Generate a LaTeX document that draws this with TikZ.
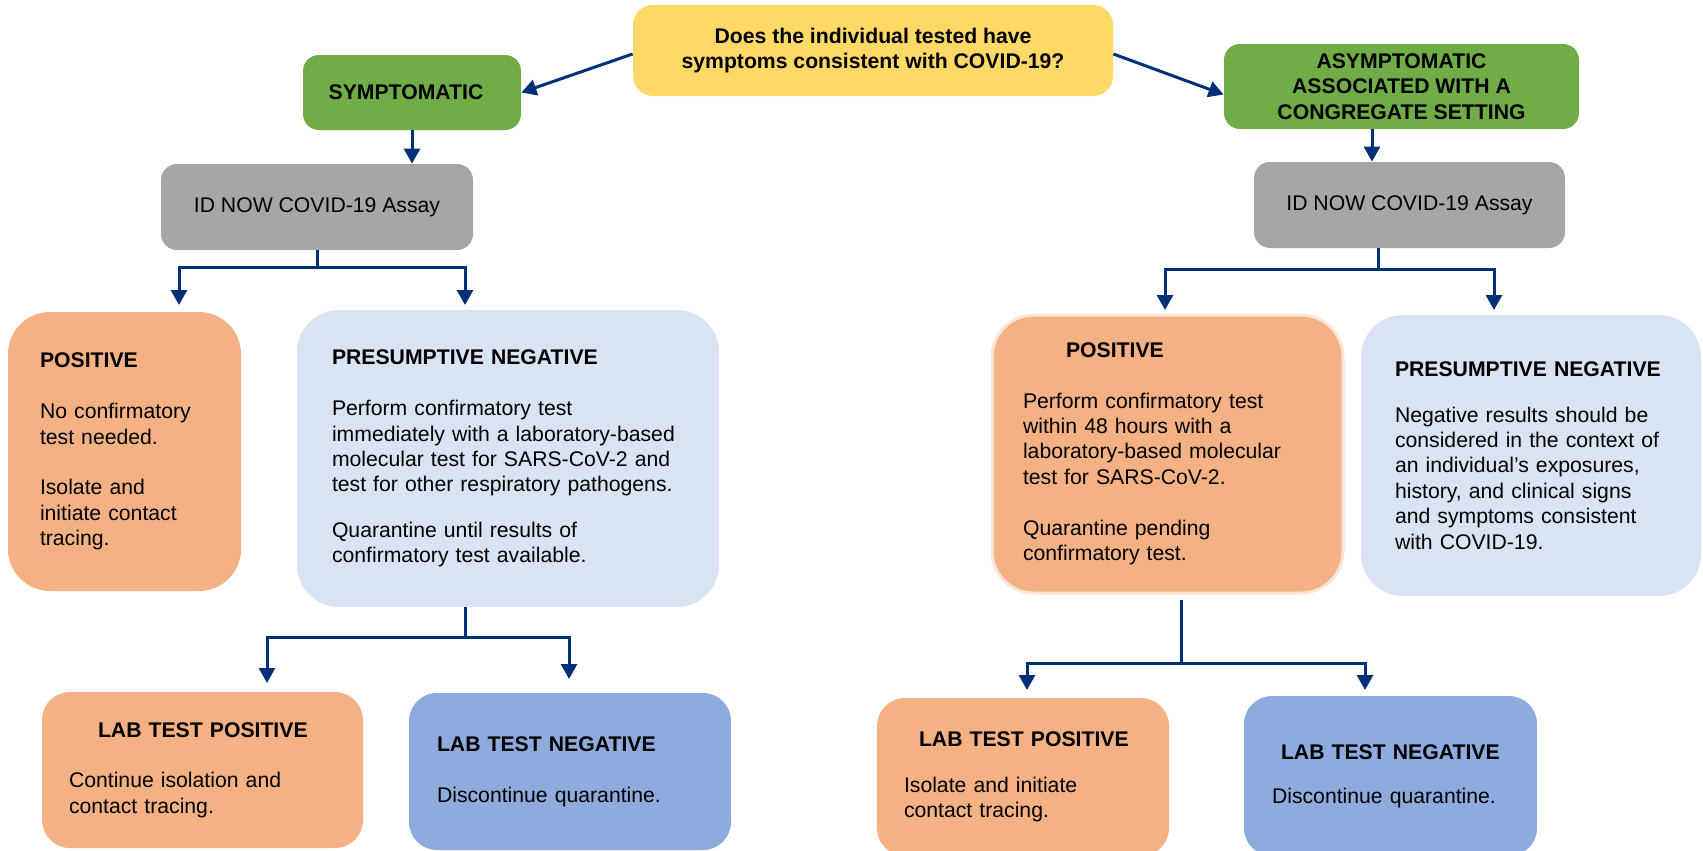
\documentclass[tikz,border=0pt]{standalone}
\usepackage{fontspec}
\setmainfont{Liberation Sans}
\usetikzlibrary{arrows.meta}
\definecolor{qyellow}{HTML}{FFD966}
\definecolor{sgreen}{HTML}{70AD47}
\definecolor{agray}{HTML}{A6A6A6}
\definecolor{porange}{HTML}{F4B183}
\definecolor{pborder}{HTML}{FBE5D6}
\definecolor{nblue}{HTML}{DAE3F3}
\definecolor{lblue}{HTML}{8FAADC}
\definecolor{arrblue}{HTML}{00307A}
\newcommand{\bodyfont}{\fontsize{10.6}{12.7}\selectfont}
\begin{document}
\begin{tikzpicture}[x=0.5pt, y=-0.5pt,
	box/.style={inner sep=0pt, font=\bodyfont},
	quesbox/.style={box, fill=qyellow, rounded corners=10pt, align=center, font=\bodyfont\bfseries},
	grnbox/.style={box, fill=sgreen, rounded corners=8pt, align=center, font=\bodyfont\bfseries},
	assaybox/.style={box, fill=agray, rounded corners=8pt},
	posbox/.style={box, fill=porange, rounded corners=21pt, align=left},
	pnegbox/.style={box, fill=nblue, rounded corners=21pt, align=left},
	labbox/.style={box, rounded corners=14pt, align=left},
	arr/.style={draw=arrblue, line width=1.5pt, -{Triangle[length=7.5pt,width=8pt]}}]
\useasboundingbox (0,0) rectangle (1703,851);

% question and the two groups
\node[quesbox, minimum width=240pt, minimum height=45.5pt] (ques) at (873,50.5)
	{Does the individual tested have\\symptoms consistent with COVID-19?};
\node[grnbox, minimum width=109pt, minimum height=37.5pt] (symp) at (412,92.5) {SYMPTOMATIC\hspace*{6pt}};
\node[grnbox, minimum width=177.5pt, minimum height=42.5pt] (asymp) at (1401.5,86.5)
	{ASYMPTOMATIC\\ASSOCIATED WITH A\\CONGREGATE SETTING};

% assays
\node[assaybox, minimum width=156pt, minimum height=43pt] (assayL) at (317,207) {ID NOW COVID-19 Assay};
\node[assaybox, minimum width=155.5pt, minimum height=43pt] (assayR) at (1409.5,205) {ID NOW COVID-19 Assay};

% results, left side
\node[posbox, minimum width=116.5pt, minimum height=139.5pt, text width=84.5pt, inner xsep=16pt] (posL) at (124.5,451.5)
	{\textbf{POSITIVE}\\[12.7pt]No confirmatory\\test needed.\\[12.7pt]Isolate and\\initiate contact\\tracing.};
\node[pnegbox, minimum width=211pt, minimum height=148.5pt, text width=176pt, inner xsep=17.5pt] (negL) at (508,458.5)
	{\textbf{PRESUMPTIVE NEGATIVE}\\[12.7pt]Perform confirmatory test\\immediately with a laboratory-based\\molecular test for SARS-CoV-2 and\\test for other respiratory pathogens.\\[10pt]Quarantine until results of\\confirmatory test available.};

% results, right side
\node[posbox, draw=pborder, line width=1.5pt, minimum width=175.5pt, minimum height=139pt, text width=144.5pt, inner xsep=15.5pt] (posR) at (1167.5,454)
	{\hspace*{21.5pt}\textbf{POSITIVE}\\[12.4pt]Perform confirmatory test\\within 48 hours with a\\laboratory-based molecular\\test for SARS-CoV-2.\\[12.7pt]Quarantine pending\\confirmatory test.};
\node[pnegbox, minimum width=170pt, minimum height=140.5pt, text width=136pt, inner xsep=17pt] (negR) at (1531,455.5)
	{\textbf{PRESUMPTIVE NEGATIVE}\\[10pt]Negative results should be\\considered in the context of\\an individual’s exposures,\\history, and clinical signs\\and symptoms consistent\\with COVID-19.};

% lab tests
\node[labbox, fill=porange, minimum width=160.5pt, minimum height=78pt, text width=133.5pt, inner xsep=13.5pt] (labposL) at (202.5,770)
	{\hspace*{14.5pt}\textbf{LAB TEST POSITIVE}\\[12.7pt]Continue isolation and\\contact tracing.};
\node[labbox, fill=lblue, minimum width=161pt, minimum height=78.5pt, text width=133pt, inner xsep=14pt] (labnegL) at (570,771.5)
	{\textbf{LAB TEST NEGATIVE}\\[12.7pt]Discontinue quarantine.};
\node[labbox, fill=porange, minimum width=146pt, minimum height=79pt, text width=119pt, inner xsep=13.5pt] (labposR) at (1023,777)
	{\hspace*{7.5pt}\textbf{LAB TEST POSITIVE}\\[10pt]Isolate and initiate\\contact tracing.};
\node[labbox, fill=lblue, minimum width=146.5pt, minimum height=80pt, text width=118.5pt, inner xsep=14pt] (labnegR) at (1390.5,776)
	{\hspace*{4.5pt}\textbf{LAB TEST NEGATIVE}\\[9.5pt]Discontinue quarantine.};

% fork points and arrow tips
\coordinate (asympOut) at ([xshift=-14.75pt]asymp.south);
\coordinate (forkA) at (317,267);
\coordinate (tipA1) at (179,305);
\coordinate (tipA2) at (465,305);
\coordinate (stemB) at ([xshift=-15.75pt]assayR.south);
\coordinate (forkB) at (1378,269);
\coordinate (tipB1) at (1165,310);
\coordinate (tipB2) at (1494,310);
\coordinate (stemC) at ([xshift=-21.5pt]negL.south);
\coordinate (forkC) at (465,637);
\coordinate (tipC1) at (267,683);
\coordinate (tipC2) at (569,679);
\coordinate (stemD) at (1181,600);
\coordinate (forkD) at (1181,663);
\coordinate (tipD1) at (1027,690);
\coordinate (tipD2) at (1365,690);

% connectors
\draw[arr] ([yshift=-1.75pt]ques.west) -- (symp.east);
\draw[arr] ([yshift=-1.75pt]ques.east) -- ([yshift=-4pt]asymp.west);
\draw[arr] (symp.south) -- (symp.south |- assayL.north);
\draw[arr] (asympOut) -- (asympOut |- assayR.north);
\draw[arr] (assayL.south) -- (forkA) -| (tipA1);
\draw[arr] (forkA) -| (tipA2);
\draw[arr] (stemB) -- (forkB) -| (tipB1);
\draw[arr] (forkB) -| (tipB2);
\draw[arr] (stemC) -- (forkC) -| (tipC1);
\draw[arr] (forkC) -| (tipC2);
\draw[arr] (stemD) -- (forkD) -| (tipD1);
\draw[arr] (forkD) -| (tipD2);

\end{tikzpicture}
\end{document}
